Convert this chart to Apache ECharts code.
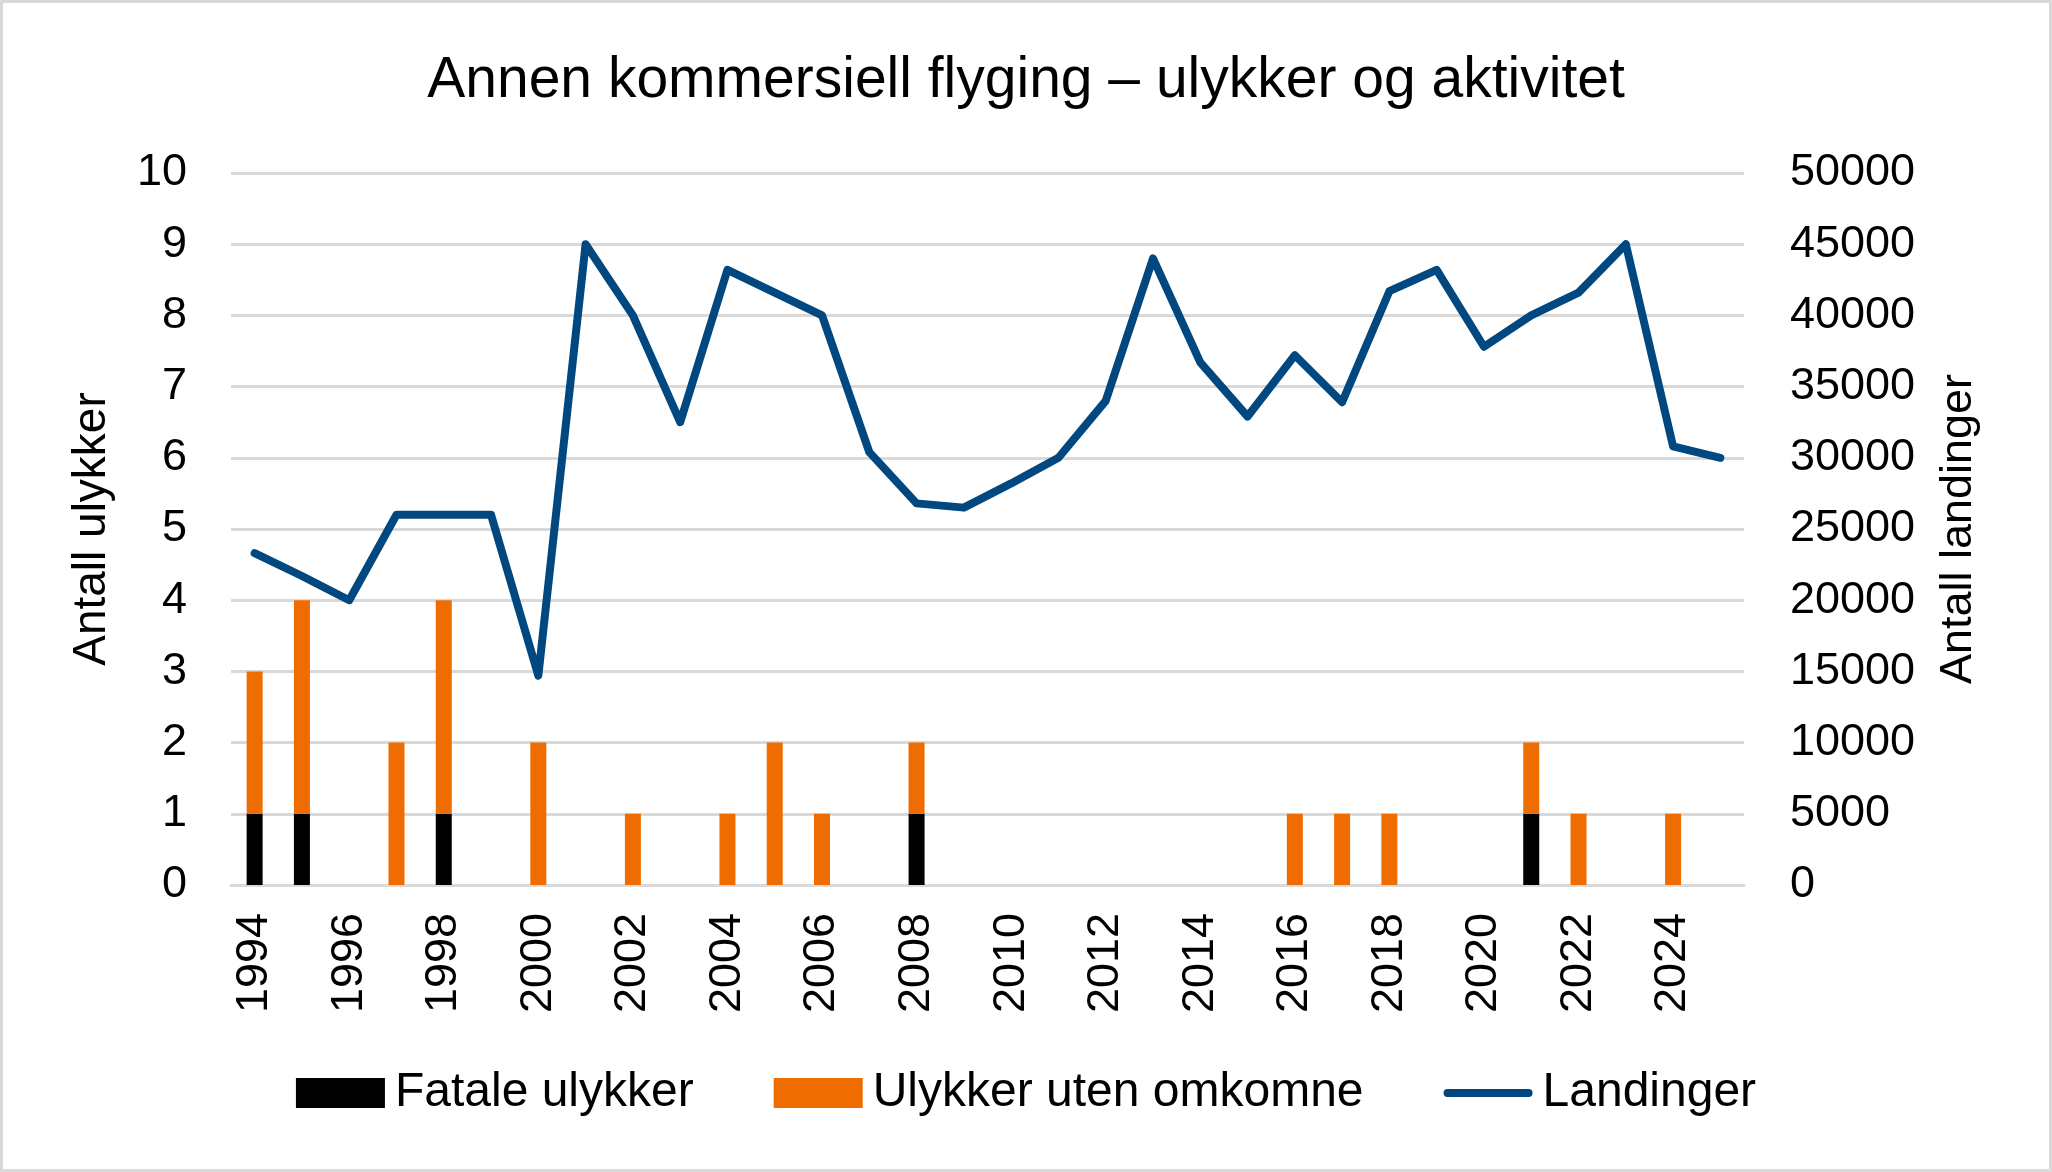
<!DOCTYPE html>
<html>
<head>
<meta charset="utf-8">
<script src="https://cdn.jsdelivr.net/npm/echarts@6/dist/echarts.min.js"></script>
<style>
  html, body { margin: 0; padding: 0; background: #fff; }
  #chart { width: 2052px; height: 1172px; box-sizing: border-box; border: 3px solid #d9d9d9; }
</style>
</head>
<body>
<div id="chart"></div>
<script>
const years = [
  '1994', '1995', '1996', '1997', '1998', '1999', '2000', '2001', '2002', '2003', '2004',
  '2005', '2006', '2007', '2008', '2009', '2010', '2011', '2012', '2013', '2014', '2015',
  '2016', '2017', '2018', '2019', '2020', '2021', '2022', '2023', '2024', '2025',
];

// fatal accidents per year
const fatale = [1, 1, 0, 0, 1, 0, 0, 0, 0, 0, 0, 0, 0, 0, 1, 0, 0, 0, 0, 0, 0, 0, 0, 0, 0, 0, 0, 1, 0, 0, 0, 0];

// accidents without fatalities
const utenOmkomne = [2, 3, 0, 2, 3, 0, 2, 0, 1, 0, 1, 2, 1, 0, 1, 0, 0, 0, 0, 0, 0, 0, 1, 1, 1, 0, 0, 1, 1, 0, 1, 0];

// landings (right axis)
const landinger = [
  23300, 21700, 20000, 26000, 26000, 26000, 14700, 45000, 40000, 32500, 43200,
  41600, 40000, 30400, 26800, 26500, 28200, 30000, 34000, 44000, 36700, 32900,
  37200, 33900, 41700, 43200, 37800, 40000, 41600, 45000, 30800, 30000,
];

const font = 'Liberation Sans, Arial, sans-serif';
const gridColor = '#d9d9d9';
const labelSize = 45;

// rounded bar used as the legend marker for the line series
const lineIcon = 'path://M4,0 L85,0 A4,4 0 0 1 85,8 L4,8 A4,4 0 0 1 4,0 Z';

const chart = echarts.init(document.getElementById('chart'));

chart.setOption({
  animation: false,
  textStyle: { fontFamily: font, color: '#000' },
  title: {
    text: 'Annen kommersiell flyging \u2013 ulykker og aktivitet',
    left: 'center',
    top: 45,
    textStyle: { fontFamily: font, fontSize: 57, fontWeight: 'normal', color: '#000' },
  },
  legend: {
    bottom: 47,
    left: 'center',
    itemWidth: 89,
    itemHeight: 30,
    itemGap: 80,
    symbolKeepAspect: true,
    textStyle: { fontFamily: font, fontSize: 48, color: '#000', padding: [0, 0, 0, 5] },
    data: [
      { name: 'Fatale ulykker', icon: 'rect' },
      { name: 'Ulykker uten omkomne', icon: 'rect' },
      { name: 'Landinger', icon: lineIcon },
    ],
  },
  grid: {
    left: 228,
    right: 305,
    top: 170,
    bottom: 284,
  },
  xAxis: {
    type: 'category',
    data: years,
    axisLine: { show: true, lineStyle: { color: gridColor, width: 3 } },
    axisTick: { show: false },
    axisLabel: {
      interval: 1,
      rotate: 90,
      margin: 28,
      fontSize: labelSize,
      fontFamily: font,
      color: '#000',
    },
  },
  yAxis: [
    {
      type: 'value',
      min: 0,
      max: 10,
      interval: 1,
      name: 'Antall ulykker',
      nameLocation: 'middle',
      nameRotate: 90,
      nameGap: 116,
      nameTextStyle: { fontFamily: font, fontSize: 46, color: '#000' },
      axisLine: { show: false },
      axisTick: { show: false },
      axisLabel: { margin: 44, fontSize: labelSize, fontFamily: font, color: '#000' },
      splitLine: { lineStyle: { color: gridColor, width: 3 } },
    },
    {
      type: 'value',
      min: 0,
      max: 50000,
      interval: 5000,
      name: 'Antall landinger',
      nameLocation: 'middle',
      nameRotate: 90,
      nameGap: 192,
      nameTextStyle: { fontFamily: font, fontSize: 45, color: '#000' },
      axisLine: { show: false },
      axisTick: { show: false },
      axisLabel: {
        margin: 46,
        fontSize: labelSize,
        fontFamily: font,
        color: '#000',
        formatter: (v) => String(v),
      },
      splitLine: { show: false },
    },
  ],
  series: [
    {
      name: 'Fatale ulykker',
      type: 'bar',
      stack: 'ulykker',
      barWidth: 16,
      itemStyle: { color: '#000000' },
      data: fatale,
    },
    {
      name: 'Ulykker uten omkomne',
      type: 'bar',
      stack: 'ulykker',
      barWidth: 16,
      itemStyle: { color: '#ef6c00' },
      data: utenOmkomne,
    },
    {
      name: 'Landinger',
      type: 'line',
      yAxisIndex: 1,
      symbol: 'none',
      itemStyle: { color: '#00487f' },
      lineStyle: { color: '#00487f', width: 8, cap: 'round', join: 'round' },
      data: landinger,
      z: 3,
    },
  ],
});
</script>
</body>
</html>
